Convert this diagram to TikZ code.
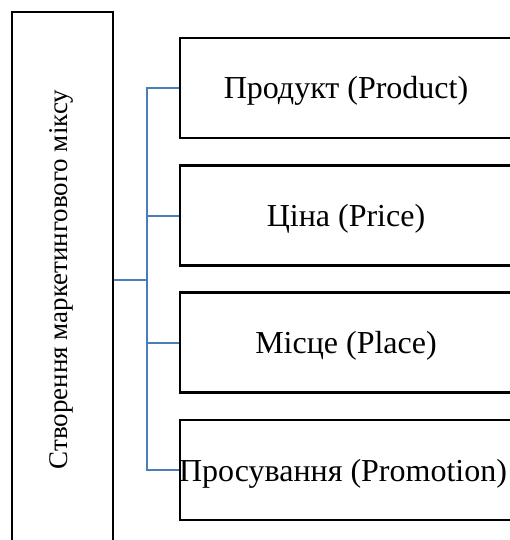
\documentclass[tikz,border=0pt]{standalone}
\usepackage{fontspec}
\setmainfont{Liberation Serif}
\definecolor{linkblue}{HTML}{4A7EBB}
\begin{document}
\begin{tikzpicture}[x=1pt,y=-1pt,
  box/.style={draw=black,line width=2.4pt,minimum width=332pt,minimum height=100pt,
    inner sep=0pt,text height=26pt,text depth=4pt,font=\fontsize{32}{36}\selectfont},
  sidebox/.style={draw=black,line width=2.4pt,minimum width=101pt,minimum height=540pt,
    inner sep=0pt},
  link/.style={draw=linkblue,line width=2pt}]
\useasboundingbox (0,0) rectangle (510,540);
\clip (0,0) rectangle (510,540);
% left column box with vertical caption
\node[sidebox] (side) at (62.5,282) {};
\node[rotate=90,font=\fontsize{27}{31}\selectfont] (cap) at (61,279.5) {Створення маркетингового міксу};
% the four elements of the mix
\node[box] (b1) at (346,88) {Продукт (Product)};
\node[box] (b2) at (346,215.5) {Ціна (Price)};
\node[box] (b3) at (346,342.5) {Місце (Place)};
\node[box] (b4) at (346,470) {\hspace*{-6pt}Просування (Promotion)};
% bracket connector
\coordinate (hub) at (147,280);
\draw[link] (side.east |- hub) -- (hub);
\draw[link] (b1.west) -- (b1.west -| hub) -- (b4.west -| hub) -- (b4.west);
\draw[link] (b2.west -| hub) -- (b2.west);
\draw[link] (b3.west -| hub) -- (b3.west);
\end{tikzpicture}
\end{document}
